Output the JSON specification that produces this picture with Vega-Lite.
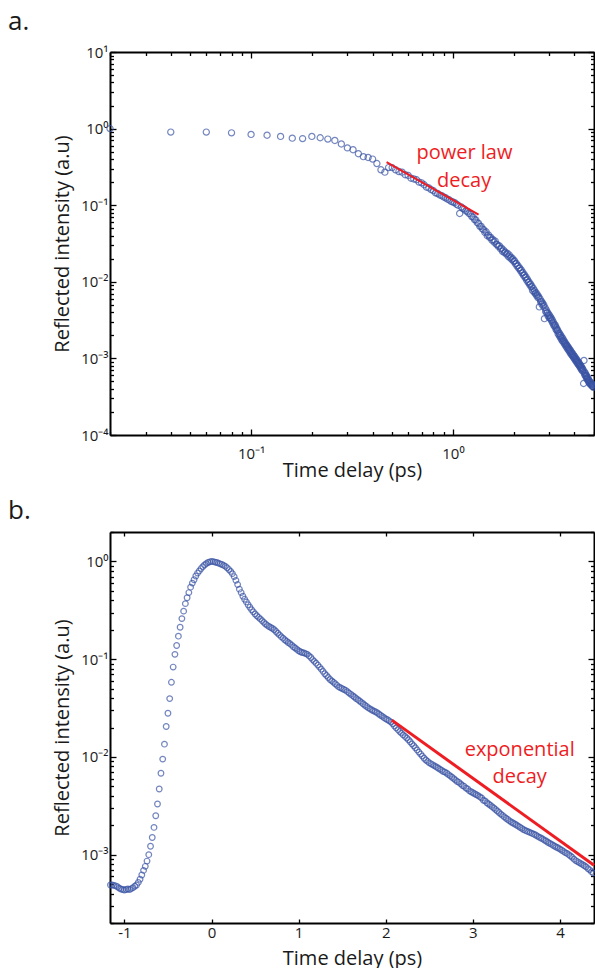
{
  "$schema": "https://vega.github.io/schema/vega-lite/v6.json",
  "background": "white",
  "padding": {"left": 8, "top": 9, "right": 0, "bottom": 0},
  "spacing": 17,
  "config": {
    "view": {"stroke": null},
    "axis": {"domainColor": "#000000", "domainWidth": 2, "tickColor": "#000000", "tickWidth": 1.3, "grid": false,
      "labelFont": "Open Sans", "labelFontSize": 15, "labelColor": "#1a1a1a",
      "titleFont": "Open Sans", "titleFontSize": 20, "titleFontWeight": "normal", "titleColor": "#1a1a1a",
      "labelOverlap": false, "labelFlush": false},
    "title": {"font": "Open Sans", "fontSize": 26, "fontWeight": "normal", "anchor": "start", "color": "#1a1a1a", "frame": "group"}
  },
  "datasets": {
    "a": [
      {"t":0.02,"v":1.0},{"t":0.04,"v":0.9},{"t":0.06,"v":0.9},{"t":0.08,"v":0.88},{"t":0.1,"v":0.84},{"t":0.12,"v":0.82},{"t":0.14,"v":0.79},{"t":0.16,"v":0.75},{"t":0.18,"v":0.74},{"t":0.2,"v":0.79},
      {"t":0.22,"v":0.76},{"t":0.24,"v":0.73},{"t":0.26,"v":0.7},{"t":0.28,"v":0.63},{"t":0.3,"v":0.56},{"t":0.32,"v":0.53},{"t":0.34,"v":0.47},{"t":0.36,"v":0.43},{"t":0.38,"v":0.42},{"t":0.4,"v":0.4},
      {"t":0.42,"v":0.35},{"t":0.44,"v":0.29},{"t":0.46,"v":0.27},{"t":0.48,"v":0.31},{"t":0.5,"v":0.31},{"t":0.52,"v":0.29},{"t":0.54,"v":0.275},{"t":0.56,"v":0.27},{"t":0.58,"v":0.25},{"t":0.6,"v":0.245},
      {"t":0.62,"v":0.225},{"t":0.64,"v":0.22},{"t":0.66,"v":0.215},{"t":0.68,"v":0.2},{"t":0.7,"v":0.196},{"t":0.72,"v":0.185},{"t":0.74,"v":0.172},{"t":0.76,"v":0.168},{"t":0.78,"v":0.16},{"t":0.8,"v":0.155},
      {"t":0.82,"v":0.145},{"t":0.84,"v":0.142},{"t":0.86,"v":0.136},{"t":0.88,"v":0.133},{"t":0.9,"v":0.128},{"t":0.92,"v":0.125},{"t":0.94,"v":0.12},{"t":0.96,"v":0.117},{"t":0.98,"v":0.112},{"t":1.0,"v":0.11},
      {"t":1.02,"v":0.108},{"t":1.04,"v":0.103},{"t":1.06,"v":0.1},{"t":1.08,"v":0.078},{"t":1.1,"v":0.095},{"t":1.12,"v":0.091},{"t":1.14,"v":0.089},{"t":1.16,"v":0.084},{"t":1.18,"v":0.083},{"t":1.2,"v":0.078},
      {"t":1.22,"v":0.077},{"t":1.24,"v":0.071},{"t":1.26,"v":0.07},{"t":1.28,"v":0.065},{"t":1.3,"v":0.064},{"t":1.32,"v":0.059},{"t":1.34,"v":0.058},{"t":1.36,"v":0.053},{"t":1.38,"v":0.053},{"t":1.4,"v":0.049},
      {"t":1.42,"v":0.048},{"t":1.44,"v":0.044},{"t":1.46,"v":0.045},{"t":1.48,"v":0.04},{"t":1.5,"v":0.041},{"t":1.52,"v":0.038},{"t":1.54,"v":0.038},{"t":1.56,"v":0.035},{"t":1.58,"v":0.0355},{"t":1.6,"v":0.033},
      {"t":1.62,"v":0.034},{"t":1.64,"v":0.031},{"t":1.66,"v":0.0305},{"t":1.68,"v":0.029},{"t":1.7,"v":0.0295},{"t":1.72,"v":0.027},{"t":1.74,"v":0.0275},{"t":1.76,"v":0.025},{"t":1.78,"v":0.026},{"t":1.8,"v":0.024},
      {"t":1.82,"v":0.0245},{"t":1.84,"v":0.023},{"t":1.86,"v":0.0235},{"t":1.88,"v":0.0215},{"t":1.9,"v":0.0225},{"t":1.92,"v":0.0205},{"t":1.94,"v":0.021},{"t":1.96,"v":0.0195},{"t":1.98,"v":0.02},{"t":2.0,"v":0.0185},
      {"t":2.02,"v":0.0188},{"t":2.04,"v":0.0172},{"t":2.06,"v":0.0174},{"t":2.08,"v":0.016},{"t":2.1,"v":0.0163},{"t":2.12,"v":0.015},{"t":2.14,"v":0.0152},{"t":2.16,"v":0.014},{"t":2.18,"v":0.0143},{"t":2.2,"v":0.013},
      {"t":2.22,"v":0.0133},{"t":2.24,"v":0.0121},{"t":2.26,"v":0.0124},{"t":2.28,"v":0.0113},{"t":2.3,"v":0.0116},{"t":2.32,"v":0.0105},{"t":2.34,"v":0.0108},{"t":2.36,"v":0.0098},{"t":2.38,"v":0.01},{"t":2.4,"v":0.0092},
      {"t":2.42,"v":0.0094},{"t":2.44,"v":0.0086},{"t":2.46,"v":0.0088},{"t":2.48,"v":0.0077},{"t":2.5,"v":0.0082},{"t":2.52,"v":0.0074},{"t":2.54,"v":0.0077},{"t":2.56,"v":0.007},{"t":2.58,"v":0.0072},{"t":2.6,"v":0.0066},
      {"t":2.62,"v":0.0068},{"t":2.64,"v":0.0062},{"t":2.66,"v":0.0064},{"t":2.68,"v":0.0047},{"t":2.7,"v":0.006},{"t":2.72,"v":0.0055},{"t":2.74,"v":0.0056},{"t":2.76,"v":0.0051},{"t":2.78,"v":0.0053},{"t":2.8,"v":0.0048},
      {"t":2.82,"v":0.005},{"t":2.84,"v":0.0033},{"t":2.86,"v":0.0046},{"t":2.88,"v":0.0041},{"t":2.9,"v":0.0043},{"t":2.92,"v":0.0039},{"t":2.94,"v":0.004},{"t":2.96,"v":0.0036},{"t":2.98,"v":0.0038},{"t":3.0,"v":0.0034},
      {"t":3.02,"v":0.0036},{"t":3.04,"v":0.0033},{"t":3.06,"v":0.0034},{"t":3.08,"v":0.0031},{"t":3.1,"v":0.0032},{"t":3.12,"v":0.0029},{"t":3.14,"v":0.003},{"t":3.16,"v":0.0027},{"t":3.18,"v":0.0028},{"t":3.2,"v":0.0026},
      {"t":3.22,"v":0.0027},{"t":3.24,"v":0.0024},{"t":3.26,"v":0.0025},{"t":3.28,"v":0.0023},{"t":3.3,"v":0.00235},{"t":3.32,"v":0.0021},{"t":3.34,"v":0.0022},{"t":3.36,"v":0.002},{"t":3.38,"v":0.0021},{"t":3.4,"v":0.0019},
      {"t":3.42,"v":0.002},{"t":3.44,"v":0.0018},{"t":3.46,"v":0.0019},{"t":3.48,"v":0.0017},{"t":3.5,"v":0.00182},{"t":3.52,"v":0.00165},{"t":3.54,"v":0.00172},{"t":3.56,"v":0.00157},{"t":3.58,"v":0.00164},{"t":3.6,"v":0.0015},
      {"t":3.62,"v":0.00156},{"t":3.64,"v":0.00143},{"t":3.66,"v":0.0015},{"t":3.68,"v":0.00137},{"t":3.7,"v":0.00144},{"t":3.72,"v":0.00131},{"t":3.74,"v":0.00138},{"t":3.76,"v":0.00126},{"t":3.78,"v":0.00132},{"t":3.8,"v":0.0012},
      {"t":3.82,"v":0.00127},{"t":3.84,"v":0.00115},{"t":3.86,"v":0.00122},{"t":3.88,"v":0.00111},{"t":3.9,"v":0.00117},{"t":3.92,"v":0.00107},{"t":3.94,"v":0.00113},{"t":3.96,"v":0.00103},{"t":3.98,"v":0.00108},{"t":4.0,"v":0.00099},
      {"t":4.02,"v":0.00105},{"t":4.04,"v":0.00095},{"t":4.06,"v":0.001},{"t":4.08,"v":0.00092},{"t":4.1,"v":0.00097},{"t":4.12,"v":0.00088},{"t":4.14,"v":0.00093},{"t":4.16,"v":0.00085},{"t":4.18,"v":0.0009},{"t":4.2,"v":0.00082},
      {"t":4.22,"v":0.00087},{"t":4.24,"v":0.00079},{"t":4.26,"v":0.00083},{"t":4.28,"v":0.00076},{"t":4.3,"v":0.0008},{"t":4.32,"v":0.00073},{"t":4.34,"v":0.00077},{"t":4.36,"v":0.0007},{"t":4.38,"v":0.00074},{"t":4.4,"v":0.00068},
      {"t":4.42,"v":0.00071},{"t":4.44,"v":0.00047},{"t":4.46,"v":0.00094},{"t":4.48,"v":0.00063},{"t":4.5,"v":0.00066},{"t":4.52,"v":0.0006},{"t":4.54,"v":0.00063},{"t":4.56,"v":0.00058},{"t":4.58,"v":0.0006},{"t":4.6,"v":0.00055},
      {"t":4.62,"v":0.00058},{"t":4.64,"v":0.00053},{"t":4.66,"v":0.00056},{"t":4.68,"v":0.00051},{"t":4.7,"v":0.00053},{"t":4.72,"v":0.00049},{"t":4.74,"v":0.00051},{"t":4.76,"v":0.00047},{"t":4.78,"v":0.00049},{"t":4.8,"v":0.00046},
      {"t":4.82,"v":0.00048},{"t":4.84,"v":0.00045},{"t":4.86,"v":0.00047},{"t":4.88,"v":0.00044},{"t":4.9,"v":0.00046},{"t":4.92,"v":0.00043},{"t":4.94,"v":0.00045},{"t":4.96,"v":0.00042}
    ],
    "b": [
      {"t":-1.16,"v":0.00049},{"t":-1.14,"v":0.00049},{"t":-1.12,"v":0.000485},{"t":-1.1,"v":0.00048},{"t":-1.08,"v":0.00047},{"t":-1.06,"v":0.000455},{"t":-1.04,"v":0.000445},{"t":-1.02,"v":0.00044},{"t":-1.0,"v":0.000435},{"t":-0.98,"v":0.00044},
      {"t":-0.96,"v":0.000445},{"t":-0.94,"v":0.00044},{"t":-0.92,"v":0.00045},{"t":-0.9,"v":0.00046},{"t":-0.88,"v":0.000475},{"t":-0.86,"v":0.00049},{"t":-0.84,"v":0.00052},{"t":-0.82,"v":0.00056},{"t":-0.8,"v":0.00062},{"t":-0.78,"v":0.00069},
      {"t":-0.76,"v":0.00076},{"t":-0.74,"v":0.00086},{"t":-0.72,"v":0.001},{"t":-0.7,"v":0.00122},{"t":-0.68,"v":0.0015},{"t":-0.66,"v":0.0019},{"t":-0.64,"v":0.0025},{"t":-0.62,"v":0.0033},{"t":-0.6,"v":0.0047},{"t":-0.58,"v":0.0068},
      {"t":-0.56,"v":0.0095},{"t":-0.54,"v":0.0135},{"t":-0.52,"v":0.0205},{"t":-0.5,"v":0.028},{"t":-0.48,"v":0.0395},{"t":-0.46,"v":0.058},{"t":-0.44,"v":0.083},{"t":-0.42,"v":0.112},{"t":-0.4,"v":0.138},{"t":-0.38,"v":0.172},
      {"t":-0.36,"v":0.212},{"t":-0.34,"v":0.26},{"t":-0.32,"v":0.31},{"t":-0.3,"v":0.37},{"t":-0.28,"v":0.425},{"t":-0.26,"v":0.48},{"t":-0.24,"v":0.545},{"t":-0.22,"v":0.6},{"t":-0.2,"v":0.65},{"t":-0.18,"v":0.71},
      {"t":-0.16,"v":0.76},{"t":-0.14,"v":0.8},{"t":-0.12,"v":0.845},{"t":-0.1,"v":0.885},{"t":-0.08,"v":0.92},{"t":-0.06,"v":0.95},{"t":-0.04,"v":0.975},{"t":-0.02,"v":0.99},{"t":0.0,"v":1.0},{"t":0.02,"v":0.995},
      {"t":0.04,"v":0.985},{"t":0.06,"v":0.975},{"t":0.08,"v":0.96},{"t":0.1,"v":0.945},{"t":0.12,"v":0.93},{"t":0.14,"v":0.91},{"t":0.16,"v":0.89},{"t":0.18,"v":0.86},{"t":0.2,"v":0.825},{"t":0.22,"v":0.79},
      {"t":0.24,"v":0.75},{"t":0.26,"v":0.7},{"t":0.28,"v":0.64},{"t":0.3,"v":0.58},{"t":0.32,"v":0.52},{"t":0.34,"v":0.48},{"t":0.36,"v":0.44},{"t":0.38,"v":0.41},{"t":0.4,"v":0.385},{"t":0.42,"v":0.36},
      {"t":0.44,"v":0.34},{"t":0.46,"v":0.32},{"t":0.48,"v":0.305},{"t":0.5,"v":0.29},{"t":0.52,"v":0.278},{"t":0.54,"v":0.268},{"t":0.56,"v":0.258},{"t":0.58,"v":0.248},{"t":0.6,"v":0.238},{"t":0.62,"v":0.229},
      {"t":0.64,"v":0.222},{"t":0.66,"v":0.216},{"t":0.68,"v":0.211},{"t":0.7,"v":0.206},{"t":0.72,"v":0.2},{"t":0.74,"v":0.192},{"t":0.76,"v":0.184},{"t":0.78,"v":0.177},{"t":0.8,"v":0.17},{"t":0.82,"v":0.164},
      {"t":0.84,"v":0.158},{"t":0.86,"v":0.153},{"t":0.88,"v":0.148},{"t":0.9,"v":0.144},{"t":0.92,"v":0.139},{"t":0.94,"v":0.134},{"t":0.96,"v":0.13},{"t":0.98,"v":0.126},{"t":1.0,"v":0.122},{"t":1.02,"v":0.119},
      {"t":1.04,"v":0.117},{"t":1.06,"v":0.116},{"t":1.08,"v":0.114},{"t":1.1,"v":0.112},{"t":1.12,"v":0.108},{"t":1.14,"v":0.104},{"t":1.16,"v":0.099},{"t":1.18,"v":0.095},{"t":1.2,"v":0.091},{"t":1.22,"v":0.087},
      {"t":1.24,"v":0.083},{"t":1.26,"v":0.079},{"t":1.28,"v":0.075},{"t":1.3,"v":0.071},{"t":1.32,"v":0.068},{"t":1.34,"v":0.065},{"t":1.36,"v":0.062},{"t":1.38,"v":0.06},{"t":1.4,"v":0.058},{"t":1.42,"v":0.056},
      {"t":1.44,"v":0.054},{"t":1.46,"v":0.052},{"t":1.48,"v":0.051},{"t":1.5,"v":0.05},{"t":1.52,"v":0.049},{"t":1.54,"v":0.048},{"t":1.56,"v":0.0465},{"t":1.58,"v":0.045},{"t":1.6,"v":0.0437},{"t":1.62,"v":0.0423},
      {"t":1.64,"v":0.041},{"t":1.66,"v":0.0396},{"t":1.68,"v":0.0385},{"t":1.7,"v":0.0373},{"t":1.72,"v":0.0361},{"t":1.74,"v":0.035},{"t":1.76,"v":0.0338},{"t":1.78,"v":0.0328},{"t":1.8,"v":0.0318},{"t":1.82,"v":0.031},
      {"t":1.84,"v":0.0302},{"t":1.86,"v":0.0296},{"t":1.88,"v":0.029},{"t":1.9,"v":0.0284},{"t":1.92,"v":0.0275},{"t":1.94,"v":0.0267},{"t":1.96,"v":0.026},{"t":1.98,"v":0.0252},{"t":2.0,"v":0.0245},{"t":2.02,"v":0.024},
      {"t":2.04,"v":0.0234},{"t":2.06,"v":0.0227},{"t":2.08,"v":0.0218},{"t":2.1,"v":0.0207},{"t":2.12,"v":0.0198},{"t":2.14,"v":0.019},{"t":2.16,"v":0.0182},{"t":2.18,"v":0.0175},{"t":2.2,"v":0.0168},{"t":2.22,"v":0.0162},
      {"t":2.24,"v":0.0156},{"t":2.26,"v":0.015},{"t":2.28,"v":0.0143},{"t":2.3,"v":0.0136},{"t":2.32,"v":0.013},{"t":2.34,"v":0.0124},{"t":2.36,"v":0.0118},{"t":2.38,"v":0.0112},{"t":2.4,"v":0.0107},{"t":2.42,"v":0.0102},
      {"t":2.44,"v":0.0097},{"t":2.46,"v":0.0093},{"t":2.48,"v":0.009},{"t":2.5,"v":0.0087},{"t":2.52,"v":0.0085},{"t":2.54,"v":0.0083},{"t":2.56,"v":0.0081},{"t":2.58,"v":0.0079},{"t":2.6,"v":0.0077},{"t":2.62,"v":0.0075},
      {"t":2.64,"v":0.0073},{"t":2.66,"v":0.0071},{"t":2.68,"v":0.007},{"t":2.7,"v":0.0068},{"t":2.72,"v":0.0066},{"t":2.74,"v":0.0064},{"t":2.76,"v":0.0062},{"t":2.78,"v":0.006},{"t":2.8,"v":0.0058},{"t":2.82,"v":0.0056},
      {"t":2.84,"v":0.0055},{"t":2.86,"v":0.0053},{"t":2.88,"v":0.0051},{"t":2.9,"v":0.005},{"t":2.92,"v":0.0048},{"t":2.94,"v":0.0047},{"t":2.96,"v":0.0045},{"t":2.98,"v":0.0044},{"t":3.0,"v":0.0043},{"t":3.02,"v":0.0042},
      {"t":3.04,"v":0.0041},{"t":3.06,"v":0.00402},{"t":3.08,"v":0.0039},{"t":3.1,"v":0.0038},{"t":3.12,"v":0.0036},{"t":3.14,"v":0.00355},{"t":3.16,"v":0.0034},{"t":3.18,"v":0.0033},{"t":3.2,"v":0.0032},{"t":3.22,"v":0.0031},
      {"t":3.24,"v":0.003},{"t":3.26,"v":0.0029},{"t":3.28,"v":0.0028},{"t":3.3,"v":0.0027},{"t":3.32,"v":0.0026},{"t":3.34,"v":0.00252},{"t":3.36,"v":0.00244},{"t":3.38,"v":0.00236},{"t":3.4,"v":0.00229},{"t":3.42,"v":0.00222},
      {"t":3.44,"v":0.00216},{"t":3.46,"v":0.00211},{"t":3.48,"v":0.00206},{"t":3.5,"v":0.00201},{"t":3.52,"v":0.00196},{"t":3.54,"v":0.00191},{"t":3.56,"v":0.00186},{"t":3.58,"v":0.00181},{"t":3.6,"v":0.00177},{"t":3.62,"v":0.00174},
      {"t":3.64,"v":0.00171},{"t":3.66,"v":0.00168},{"t":3.68,"v":0.00165},{"t":3.7,"v":0.00162},{"t":3.72,"v":0.00159},{"t":3.74,"v":0.00155},{"t":3.76,"v":0.00151},{"t":3.78,"v":0.00148},{"t":3.8,"v":0.00145},{"t":3.82,"v":0.00141},
      {"t":3.84,"v":0.00138},{"t":3.86,"v":0.00134},{"t":3.88,"v":0.00131},{"t":3.9,"v":0.00128},{"t":3.92,"v":0.00125},{"t":3.94,"v":0.00122},{"t":3.96,"v":0.00119},{"t":3.98,"v":0.00117},{"t":4.0,"v":0.00114},{"t":4.02,"v":0.00111},
      {"t":4.04,"v":0.00108},{"t":4.06,"v":0.00105},{"t":4.08,"v":0.00103},{"t":4.1,"v":0.001},{"t":4.12,"v":0.00097},{"t":4.14,"v":0.00094},{"t":4.16,"v":0.0009},{"t":4.18,"v":0.00087},{"t":4.2,"v":0.00085},{"t":4.22,"v":0.00083},
      {"t":4.24,"v":0.00081},{"t":4.26,"v":0.00079},{"t":4.28,"v":0.00077},{"t":4.3,"v":0.00075},{"t":4.32,"v":0.00072},{"t":4.34,"v":0.0007},{"t":4.36,"v":0.00067},{"t":4.38,"v":0.00065}
    ]
  },
  "vconcat": [
    {
      "width": 484, "height": 383,
      "title": {"text": "a.", "dx": -102, "offset": 10},
      "layer": [
        {
          "data": {"name": "a"},
          "mark": {"type": "point", "shape": "circle", "filled": false, "color": "#3953a4", "size": 38, "strokeWidth": 1.2},
          "encoding": {
            "x": {"field": "t", "type": "quantitative", "scale": {"type": "log", "domain": [0.02, 5], "nice": false},
              "axis": {"orient": "bottom", "title": "Time delay (ps)", "values": [0.02,0.03,0.04,0.05,0.06,0.07,0.08,0.09,0.1,0.2,0.3,0.4,0.5,0.6,0.7,0.8,0.9,1,2,3,4,5],
                "labelExpr": "abs(log(datum.value)/LN10 - round(log(datum.value)/LN10)) < 0.001 ? '10' + (round(log(datum.value)/LN10) < 0 ? '\u207b' : '') + ['\u2070','\u00b9','\u00b2','\u00b3','\u2074','\u2075'][abs(round(log(datum.value)/LN10))] : ''",
                "tickSize": {"condition": {"test": "abs(log(datum.value)/LN10 - round(log(datum.value)/LN10)) < 0.001", "value": -6}, "value": -3.5},
                "labelPadding": 17, "titlePadding": -3}},
            "y": {"field": "v", "type": "quantitative", "scale": {"type": "log", "domain": [0.0001, 10], "nice": false},
              "axis": {"orient": "left", "title": "Reflected intensity (a.u)", "values": [0.0001,0.0002,0.0003,0.0004,0.0005,0.0006,0.0007,0.0008,0.0009,0.001,0.002,0.003,0.004,0.005,0.006,0.007,0.008,0.009,0.01,0.02,0.03,0.04,0.05,0.06,0.07,0.08,0.09,0.1,0.2,0.3,0.4,0.5,0.6,0.7,0.8,0.9,1,2,3,4,5,6,7,8,9,10],
                "labelExpr": "abs(log(datum.value)/LN10 - round(log(datum.value)/LN10)) < 0.001 ? '10' + (round(log(datum.value)/LN10) < 0 ? '\u207b' : '') + ['\u2070','\u00b9','\u00b2','\u00b3','\u2074','\u2075'][abs(round(log(datum.value)/LN10))] : ''",
                "tickSize": {"condition": {"test": "abs(log(datum.value)/LN10 - round(log(datum.value)/LN10)) < 0.001", "value": -6}, "value": -3.5},
                "labelPadding": 8, "titlePadding": 8}}
          }
        },
        {
          "data": {"values": [{"t": 0.469, "v": 0.366}, {"t": 1.34, "v": 0.0751}]},
          "mark": {"type": "line", "color": "#ee1d23", "strokeWidth": 2},
          "encoding": {
            "x": {"field": "t", "type": "quantitative",
              "axis": {"orient": "top", "title": null, "labels": false, "values": [0.02,0.03,0.04,0.05,0.06,0.07,0.08,0.09,0.1,0.2,0.3,0.4,0.5,0.6,0.7,0.8,0.9,1,2,3,4,5],
                "tickSize": {"condition": {"test": "abs(log(datum.value)/LN10 - round(log(datum.value)/LN10)) < 0.001", "value": -6}, "value": -3.5}}},
            "y": {"field": "v", "type": "quantitative",
              "axis": {"orient": "right", "title": null, "labels": false, "values": [0.0001,0.0002,0.0003,0.0004,0.0005,0.0006,0.0007,0.0008,0.0009,0.001,0.002,0.003,0.004,0.005,0.006,0.007,0.008,0.009,0.01,0.02,0.03,0.04,0.05,0.06,0.07,0.08,0.09,0.1,0.2,0.3,0.4,0.5,0.6,0.7,0.8,0.9,1,2,3,4,5,6,7,8,9,10],
                "tickSize": {"condition": {"test": "abs(log(datum.value)/LN10 - round(log(datum.value)/LN10)) < 0.001", "value": -6}, "value": -3.5}}}
          }
        },
        {
          "data": {"values": [{"t": 1.14, "v": 0.40, "s": "power law"}, {"t": 1.136, "v": 0.173, "s": "decay"}]},
          "mark": {"type": "text", "color": "#ee1d23", "font": "Open Sans", "fontSize": 20, "baseline": "alphabetic", "align": "center"},
          "encoding": {
            "x": {"field": "t", "type": "quantitative", "axis": null},
            "y": {"field": "v", "type": "quantitative", "axis": null},
            "text": {"field": "s"}
          }
        }
      ],
      "resolve": {"axis": {"x": "independent", "y": "independent"}}
    },
    {
      "width": 484, "height": 391,
      "title": {"text": "b.", "dx": -102, "offset": 1},
      "layer": [
        {
          "data": {"name": "b"},
          "mark": {"type": "point", "shape": "circle", "filled": false, "color": "#3953a4", "size": 32, "strokeWidth": 1.2},
          "encoding": {
            "x": {"field": "t", "type": "quantitative", "scale": {"domain": [-1.165, 4.39], "nice": false, "zero": false},
              "axis": {"orient": "bottom", "title": "Time delay (ps)", "values": [-1,0,1,2,3,4], "labelExpr": "'' + datum.value",
                "tickSize": -4, "labelPadding": 6, "titlePadding": 8}},
            "y": {"field": "v", "type": "quantitative", "scale": {"type": "log", "domain": [0.0002, 2], "nice": false},
              "axis": {"orient": "left", "title": "Reflected intensity (a.u)", "values": [0.0002,0.0003,0.0004,0.0005,0.0006,0.0007,0.0008,0.0009,0.001,0.002,0.003,0.004,0.005,0.006,0.007,0.008,0.009,0.01,0.02,0.03,0.04,0.05,0.06,0.07,0.08,0.09,0.1,0.2,0.3,0.4,0.5,0.6,0.7,0.8,0.9,1,2],
                "labelExpr": "abs(log(datum.value)/LN10 - round(log(datum.value)/LN10)) < 0.001 ? '10' + (round(log(datum.value)/LN10) < 0 ? '\u207b' : '') + ['\u2070','\u00b9','\u00b2','\u00b3','\u2074','\u2075'][abs(round(log(datum.value)/LN10))] : ''",
                "tickSize": {"condition": {"test": "abs(log(datum.value)/LN10 - round(log(datum.value)/LN10)) < 0.001", "value": -6}, "value": -3.5},
                "labelPadding": 8, "titlePadding": 8}}
          }
        },
        {
          "data": {"values": [{"t": 2.07, "v": 0.0238}, {"t": 4.39, "v": 0.00078}]},
          "mark": {"type": "line", "color": "#ee1d23", "strokeWidth": 3},
          "encoding": {
            "x": {"field": "t", "type": "quantitative",
              "axis": {"orient": "top", "title": null, "labels": false, "values": [-1,0,1,2,3,4], "tickSize": -4}},
            "y": {"field": "v", "type": "quantitative",
              "axis": {"orient": "right", "title": null, "labels": false, "values": [0.0002,0.0003,0.0004,0.0005,0.0006,0.0007,0.0008,0.0009,0.001,0.002,0.003,0.004,0.005,0.006,0.007,0.008,0.009,0.01,0.02,0.03,0.04,0.05,0.06,0.07,0.08,0.09,0.1,0.2,0.3,0.4,0.5,0.6,0.7,0.8,0.9,1,2],
                "tickSize": {"condition": {"test": "abs(log(datum.value)/LN10 - round(log(datum.value)/LN10)) < 0.001", "value": -6}, "value": -3.5}}}
          }
        },
        {
          "data": {"values": [{"t": 3.537, "v": 0.0102, "s": "exponential"}, {"t": 3.537, "v": 0.00546, "s": "decay"}]},
          "mark": {"type": "text", "color": "#ee1d23", "font": "Open Sans", "fontSize": 20, "baseline": "alphabetic", "align": "center"},
          "encoding": {
            "x": {"field": "t", "type": "quantitative", "axis": null},
            "y": {"field": "v", "type": "quantitative", "axis": null},
            "text": {"field": "s"}
          }
        }
      ],
      "resolve": {"axis": {"x": "independent", "y": "independent"}}
    }
  ]
}
